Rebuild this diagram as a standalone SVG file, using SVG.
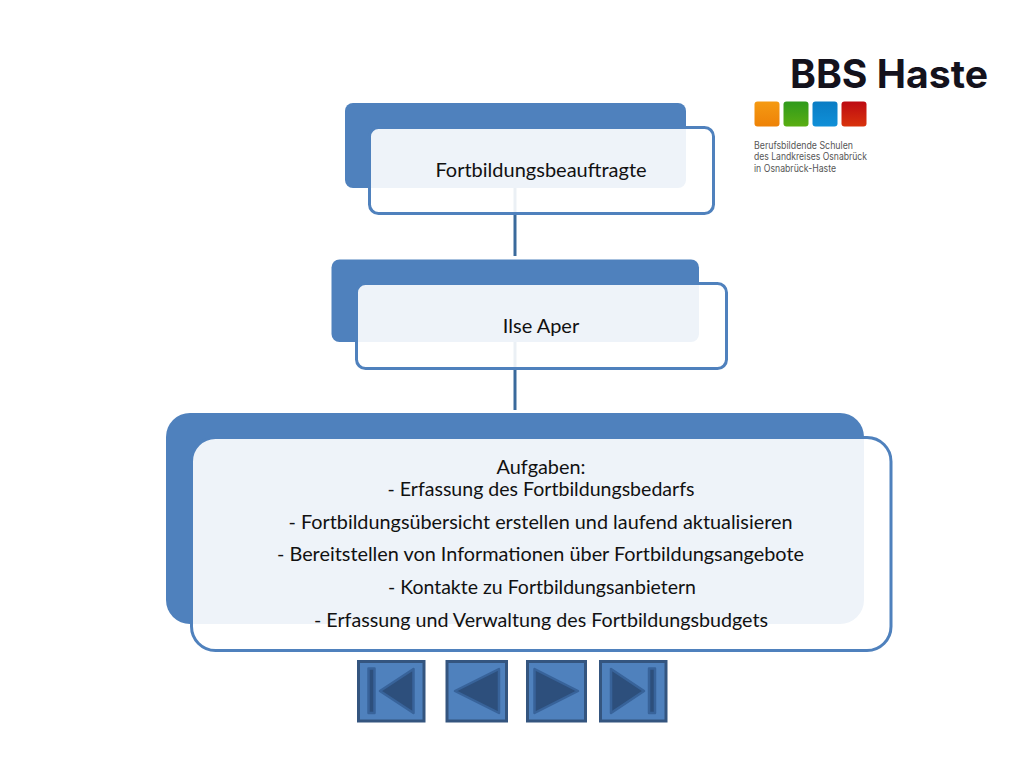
<svg xmlns="http://www.w3.org/2000/svg" width="1024" height="768" viewBox="0 0 1024 768">
<defs>
<linearGradient id="gO" x1="0" y1="0" x2="0" y2="1"><stop offset="0" stop-color="#f59a12"/><stop offset="1" stop-color="#ee8207"/></linearGradient>
<linearGradient id="gG" x1="0" y1="0" x2="0" y2="1"><stop offset="0" stop-color="#2f9a1c"/><stop offset="1" stop-color="#5aae12"/></linearGradient>
<linearGradient id="gB" x1="0" y1="0" x2="0" y2="1"><stop offset="0" stop-color="#0a7cc4"/><stop offset="1" stop-color="#1090d8"/></linearGradient>
<linearGradient id="gR" x1="0" y1="0" x2="0" y2="1"><stop offset="0" stop-color="#bd0a12"/><stop offset="1" stop-color="#d9330c"/></linearGradient>
</defs>
<style>
.back{fill:#4f81bd}
.front{fill:#fff;fill-opacity:.9;stroke:#4f81bd;stroke-width:3}
.label{font-family:"Lato","Liberation Sans",sans-serif;font-size:20px;fill:#111;text-anchor:middle}
.conn{stroke:#3a6a9c;stroke-width:3;fill:none}
.btn{fill:#4f81bd;stroke:#34557f;stroke-width:3}
.glyph{fill:#2d4f7c;stroke:#38639a;stroke-width:2.5;stroke-linejoin:round}
.logo{font-family:"Inter","Liberation Sans",sans-serif;fill:#555}
</style>
<rect width="1024" height="768" fill="#fff"/>
<g id="connectors">
<line class="conn" x1="515" y1="188" x2="515" y2="256"/>
<line class="conn" x1="515" y1="342" x2="515" y2="410"/>
</g>
<g id="node-fortbildungsbeauftragte">
<rect class="back" x="345" y="103" width="341" height="85" rx="8"/>
<rect class="front" x="369.500" y="127.500" width="344" height="86" rx="9"/>
<text class="label" x="541" y="177">Fortbildungsbeauftragte</text>
</g>
<g id="node-ilse-aper">
<rect class="back" x="331.500" y="259.500" width="367.500" height="82.500" rx="8"/>
<rect class="front" x="356.500" y="283.500" width="370" height="85" rx="9"/>
<text class="label" x="541" y="333">Ilse Aper</text>
</g>
<g id="node-aufgaben">
<rect class="back" x="166" y="413" width="698" height="211" rx="24"/>
<rect class="front" x="191.500" y="437.500" width="699.500" height="213" rx="24"/>
<text class="label" x="541" y="474" textLength="89" lengthAdjust="spacingAndGlyphs">Aufgaben:</text>
<text class="label" x="541" y="496" textLength="307" lengthAdjust="spacingAndGlyphs">- Erfassung des Fortbildungsbedarfs</text>
<text class="label" x="540.500" y="529" textLength="504" lengthAdjust="spacingAndGlyphs">- Fortbildungsübersicht erstellen und laufend aktualisieren</text>
<text class="label" x="540.500" y="561" textLength="527" lengthAdjust="spacingAndGlyphs">- Bereitstellen von Informationen über Fortbildungsangebote</text>
<text class="label" x="542" y="594" textLength="308" lengthAdjust="spacingAndGlyphs">- Kontakte zu Fortbildungsanbietern</text>
<text class="label" x="541" y="627" textLength="454" lengthAdjust="spacingAndGlyphs">- Erfassung und Verwaltung des Fortbildungsbudgets</text>
</g>
<g id="nav-first">
<rect class="btn" x="358.500" y="661.500" width="65.500" height="59.500"/>
<rect class="glyph" x="368.500" y="668.500" width="6" height="44.500"/>
<polygon class="glyph" points="380,691 413.500,669 413.500,713"/>
</g>
<g id="nav-prev">
<rect class="btn" x="447" y="661.500" width="59.500" height="59.500"/>
<polygon class="glyph" points="455,691 499,669 499,713"/>
</g>
<g id="nav-next">
<rect class="btn" x="527.500" y="661.500" width="58" height="59.500"/>
<polygon class="glyph" points="578,691 534.500,669 534.500,713"/>
</g>
<g id="nav-last">
<rect class="btn" x="600.500" y="661.500" width="65.500" height="59.500"/>
<rect class="glyph" x="649" y="668.500" width="6" height="44.500"/>
<polygon class="glyph" points="644,691 611,669 611,713"/>
</g>
<g id="logo">
<text x="790" y="88" font-family="Inter,'Liberation Sans',sans-serif" font-weight="700" font-size="39" fill="#14121c" textLength="198" lengthAdjust="spacingAndGlyphs">BBS Haste</text>
<rect x="754.500" y="101.500" width="25" height="25" rx="3" fill="url(#gO)"/>
<rect x="783.500" y="101.500" width="25" height="25" rx="3" fill="url(#gG)"/>
<rect x="812.500" y="101.500" width="25" height="25" rx="3" fill="url(#gB)"/>
<rect x="841.500" y="101.500" width="25" height="25" rx="3" fill="url(#gR)"/>
<text class="logo" x="754" y="149" font-size="10" textLength="99" lengthAdjust="spacingAndGlyphs">Berufsbildende Schulen</text>
<text class="logo" x="754" y="160" font-size="10" textLength="113" lengthAdjust="spacingAndGlyphs">des Landkreises Osnabrück</text>
<text class="logo" x="754" y="172" font-size="10" textLength="82" lengthAdjust="spacingAndGlyphs">in Osnabrück-Haste</text>
</g>
</svg>
